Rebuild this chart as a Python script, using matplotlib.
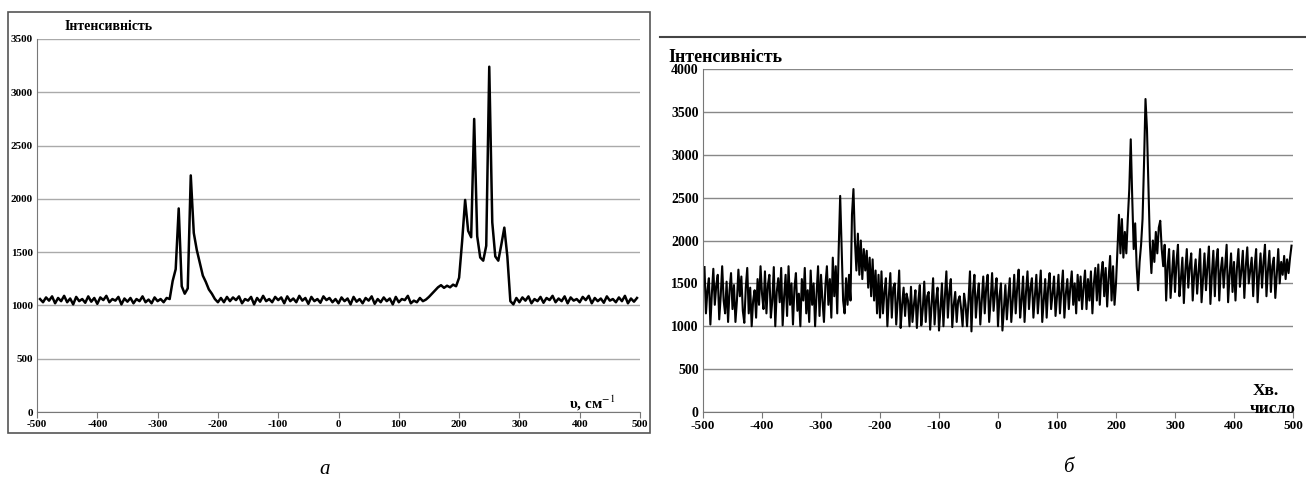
import numpy as np
import matplotlib.pyplot as plt
from matplotlib.patches import Rectangle
from matplotlib.lines import Line2D

plt.rcParams['font.family'] = ['Liberation Serif', 'DejaVu Serif']
plt.rcParams['mathtext.fontset'] = 'stix'
plt.rcParams['axes.unicode_minus'] = False

# wavenumber grids (cm^-1)
nu_a = np.arange(-495, 496, 5)
nu_b = np.arange(-497.5, 497.6, 2.5)

# panel а: intensity
int_a = [
    # -495 .. -285
    1060, 1030, 1075, 1045, 1085, 1020, 1070, 1040, 1090, 1030,
    1065, 1010, 1080, 1040, 1060, 1025, 1085, 1035, 1070, 1015,
    1075, 1050, 1090, 1030, 1060, 1045, 1080, 1010, 1065, 1035,
    1070, 1020, 1060, 1040, 1085, 1030, 1055, 1020, 1075, 1040,
    1060, 1030, 1070,
    # -280 .. -200
    1060, 1230, 1340, 1910, 1180, 1110, 1160, 2220, 1680, 1520,
    1400, 1280, 1220, 1150, 1110, 1060, 1030,
    # -195 .. 145
    1070, 1030, 1080, 1040, 1075, 1050, 1085, 1020, 1060, 1045,
    1080, 1010, 1070, 1035, 1090, 1040, 1060, 1030, 1080, 1050,
    1075, 1020, 1085, 1040, 1065, 1030, 1090, 1045, 1070, 1015,
    1080, 1040, 1060, 1025, 1085, 1050, 1070, 1030, 1060,
    1020, 1075, 1040, 1065, 1010, 1080, 1035, 1060, 1020, 1070,
    1045, 1085, 1015, 1060, 1030, 1075, 1040, 1065, 1010, 1080,
    1030, 1060, 1050, 1090, 1020, 1045, 1030, 1070, 1040, 1055,
    # 150 .. 200
    1080, 1110, 1140, 1170, 1190, 1165, 1185, 1170, 1195, 1180, 1260,
    # 205 .. 280
    1600, 1990, 1700, 1640, 2750, 1650, 1450, 1420, 1560, 3240,
    1780, 1460, 1420, 1570, 1730, 1460,
    # 285 .. 495
    1040, 1010, 1070, 1030, 1075, 1045, 1085, 1020, 1060, 1040,
    1080, 1025, 1070, 1050, 1090, 1030, 1065, 1040, 1085, 1020,
    1075, 1045, 1060, 1030, 1080, 1050, 1090, 1020, 1070, 1040,
    1065, 1025, 1085, 1045, 1060, 1030, 1075, 1040, 1090, 1020,
    1065, 1035, 1070,
]

# panel б: intensity
int_b = [
    # -497.5 .. -282.5
    1690, 1150, 1420, 1560, 1020, 1380, 1670, 1250, 1480, 1600,
    1080, 1350, 1700, 1300, 1150, 1520, 1050, 1420, 1620, 1200,
    1480, 1050, 1300, 1660, 1350, 1580, 1180, 1040, 1450, 1680,
    1150, 1450, 1000, 1300, 1420, 1100, 1550, 1250, 1700, 1380,
    1200, 1640, 1150, 1480, 1600, 1100, 1300, 1690, 1000, 1400,
    1560, 1280, 1680, 1010, 1350, 1600, 1120, 1700, 1250, 1500,
    1020, 1450, 1620, 1180, 1380, 1000, 1550, 1300, 1680, 1150,
    1420, 1050, 1650, 1250, 1500, 1000, 1380, 1700, 1120, 1600,
    1300, 1050, 1480, 1700, 1250, 1550, 1100,
    # -280 .. -200
    1800, 1350, 1700, 1150, 1900, 2520, 1900, 1300, 1150, 1560,
    1250, 1600, 1300, 2300, 2600, 2000, 1650, 2080, 1600, 2000,
    1550, 1900, 1650, 1880, 1450, 1800, 1350, 1780, 1300, 1650,
    1150, 1600, 1100,
    # -197.5 .. 147.5
    1640, 1150, 1400, 1560, 1000, 1350, 1620, 1100, 1450, 1500,
    1020, 1300, 1650, 980, 1250, 1450, 1120, 1380, 1300, 1000,
    1460, 1050, 1250, 1420, 980, 1300, 1480, 1010, 1200, 1520,
    1050, 1350, 1400, 960, 1250, 1560, 1020, 1300, 1450, 950,
    1200, 1500, 1000, 1350, 1640, 1100, 1400, 1550, 990, 1250,
    1400, 1050, 1300, 1350, 1200, 1000, 1380, 1250, 1000, 1300,
    1640, 940, 1400, 1600, 1100, 1350, 1500, 1020, 1300, 1580,
    1150, 1450, 1600, 1050, 1300, 1620, 1180, 1400, 1560, 1000,
    1350, 1500, 950, 1200, 1480, 1080, 1350, 1560, 1050, 1300,
    1600, 1150, 1450, 1660, 1100, 1300, 1580, 1050, 1400, 1640,
    1200, 1450, 1560, 1100, 1350, 1600, 1150, 1400, 1650, 1050,
    1300, 1550, 1100, 1450, 1620, 1200, 1380, 1580, 1120, 1350,
    1600, 1150, 1420, 1650, 1100, 1380, 1550, 1200, 1450, 1640,
    1250, 1500, 1150, 1600, 1300, 1580, 1200, 1450, 1650,
    # 150 .. 200
    1200, 1550, 1300, 1640, 1150, 1500, 1680, 1300, 1720, 1250,
    1600, 1750, 1350, 1680, 1230, 1560, 1820, 1300, 1700, 1250,
    1500,
    # 202.5 .. 280
    1900, 2300, 1850, 2250, 1800, 2100, 1850, 2250, 2600, 3180,
    2500, 1900, 2200, 1700, 1420, 1750, 1950, 2250, 2900, 3650,
    3300, 2600, 1950, 1620, 2000, 1750, 2100, 1850, 2150, 2230,
    1900, 1700,
    # 282.5 .. 497.5
    1950, 1300, 1700, 1900, 1330, 1600, 1880, 1400, 1750, 1950,
    1350, 1550, 1800, 1270, 1650, 1900, 1450, 1700, 1850, 1300,
    1600, 1780, 1380, 1650, 1900, 1280, 1550, 1850, 1420, 1700,
    1930, 1260, 1600, 1880, 1350, 1750, 1900, 1300, 1650, 1800,
    1450, 1700, 1950, 1280, 1600, 1850, 1400, 1750, 1300, 1680,
    1900, 1460, 1650, 1880, 1330, 1700, 1920, 1500, 1650, 1800,
    1350, 1700, 1900, 1280, 1600, 1850, 1450, 1750, 1950, 1350,
    1650, 1880, 1400, 1700, 1800, 1330, 1600, 1900, 1500, 1750,
    1600, 1820, 1550, 1780, 1620, 1800, 1940,
]

xticks = [-500, -400, -300, -200, -100, 0, 100, 200, 300, 400, 500]

W, H = 1306, 487
fig = plt.figure(figsize=(W / 100, H / 100), dpi=100)

def fx(px):
    return px / W

def fy(py):
    return (H - py) / H

def style(ax, ymax, xfs, yfs, gcol):
    ax.set_xlim(-500, 500)
    ax.set_ylim(0, ymax)
    ax.set_xticks(xticks)
    ax.set_yticks(np.arange(0, ymax + 1, 500))
    ax.grid(axis='y', color=gcol, lw=1.0)
    ax.set_axisbelow(True)
    for s in ['top', 'right']:
        ax.spines[s].set_visible(False)
    for s in ['left', 'bottom']:
        ax.spines[s].set_color('#777777')
    ax.tick_params(axis='x', length=4, color='#777777', labelsize=xfs, pad=2)
    ax.tick_params(axis='y', length=0, labelsize=yfs, pad=3)
    for lab in ax.get_xticklabels() + ax.get_yticklabels():
        lab.set_fontweight('bold')

# --- panel а ---
ax1 = fig.add_axes([fx(37), fy(412), fx(640) - fx(37), fy(39) - fy(412)])
ax1.plot(nu_a, int_a, color='black', lw=1.8)
style(ax1, 3500, 8, 8, '#aaaaaa')
fig.text(fx(65), fy(27), 'Інтенсивність', fontsize=10, fontweight='bold', va='center')
fig.text(fx(592), fy(409), r'υ, см$^{-1}$', fontsize=11,
         fontweight='bold', ha='center', va='baseline')
fig.add_artist(Rectangle((fx(8), fy(433)), fx(650) - fx(8), fy(12) - fy(433),
                         transform=fig.transFigure, fill=False, ec='#555555', lw=1.2))
fig.text(fx(325), fy(470), 'а', fontsize=15, style='italic', ha='center', va='center')

# --- panel б ---
ax2 = fig.add_axes([fx(703), fy(412), fx(1293) - fx(703), fy(69) - fy(412)])
ax2.plot(nu_b, int_b, color='black', lw=1.5)
style(ax2, 4000, 9.5, 10, '#888888')
fig.text(fx(668), fy(57), 'Інтенсивність', fontsize=13, fontweight='bold', va='center')
fig.text(fx(1266), fy(391), 'Хв.', fontsize=12.5, fontweight='bold', ha='center', va='center')
fig.text(fx(1273), fy(409), 'число', fontsize=12.5, fontweight='bold', ha='center', va='center')
fig.add_artist(Line2D([fx(660), 1.0], [fy(37), fy(37)], transform=fig.transFigure,
                      color='#444444', lw=1.5))
fig.text(fx(1068), fy(468), 'б', fontsize=15, style='italic', ha='center', va='center')

fig.savefig('out.png', dpi=100)
